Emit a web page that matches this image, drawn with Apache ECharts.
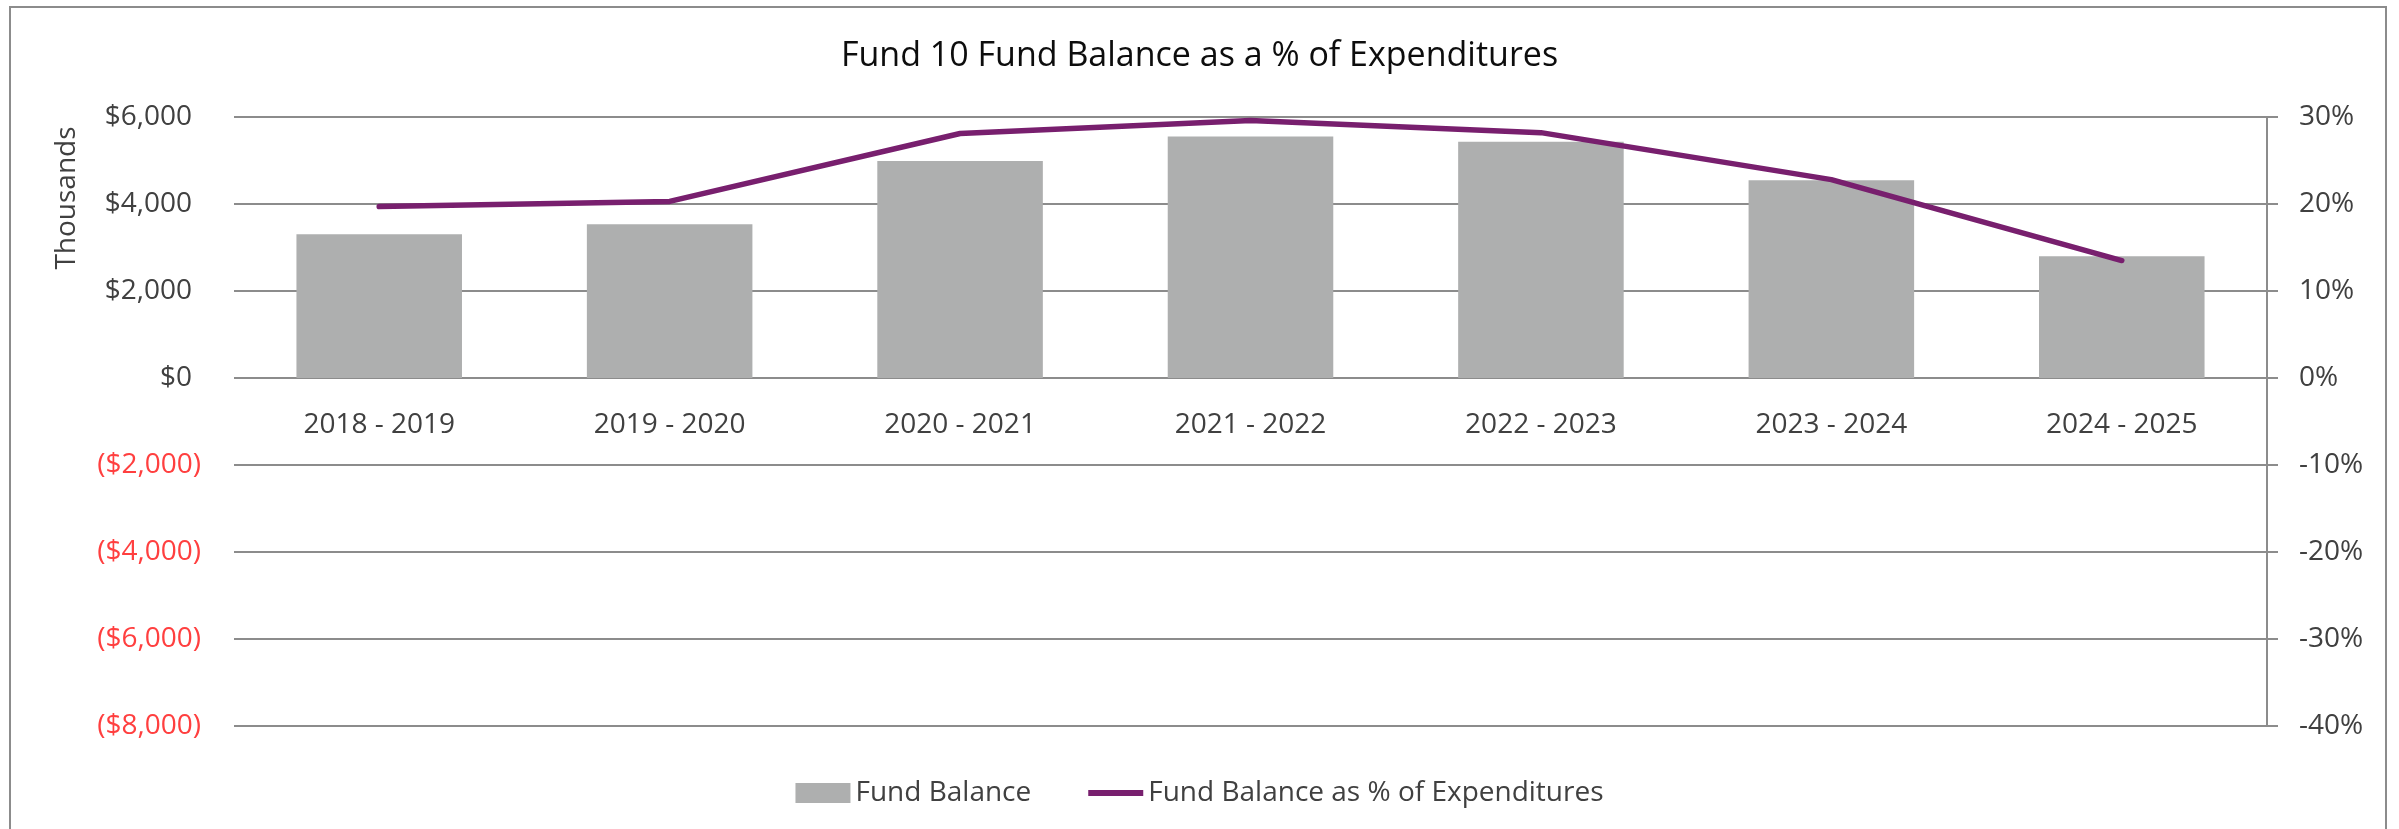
<!DOCTYPE html>
<html>
<head>
<meta charset="utf-8">
<title>Fund 10 Fund Balance as a % of Expenditures</title>
<script src="https://cdn.jsdelivr.net/npm/echarts@6/dist/echarts.min.js"></script>
<style>
  html, body { margin: 0; padding: 0; background: #fff; }
  #chart { width: 2399px; height: 829px; }
</style>
</head>
<body>
<div id="chart"></div>
<script>
// Fund 10 fund balance (thousands) and balance as % of expenditures
const years = ['2018 - 2019', '2019 - 2020', '2020 - 2021', '2021 - 2022', '2022 - 2023', '2023 - 2024', '2024 - 2025'];
const fundBalance = [3304, 3535, 4986, 5553, 5431, 4548, 2797];
const balancePct = [19.7, 20.3, 28.1, 29.6, 28.2, 22.8, 13.5];

const FONT = '"Open Sans", "DejaVu Sans", sans-serif';
const TEXT = '#404040';
const GRID = '#8c8c8c';
const PURPLE = '#781f6e';

document.addEventListener('DOMContentLoaded', function () {
    const chart = echarts.init(document.getElementById('chart'));

    // Excel style accounting labels: ($2,000) for negatives
    function money(v) {
        const s = '$' + Math.abs(v).toLocaleString('en-US');
        return v < 0 ? '{neg|(' + s + ')}' : '{pos|' + s + '}';
    }

    const option = {
        animation: false,
        textStyle: { fontFamily: FONT },
        title: {
            text: 'Fund 10 Fund Balance as a % of Expenditures',
            left: 'center',
            top: 34,
            textStyle: { color: '#0d0d0d', fontSize: 34, fontWeight: 'normal', fontFamily: FONT }
        },
        legend: {
            left: 'center',
            top: 774,
            itemWidth: 55,
            itemHeight: 20,
            itemGap: 57,
            textStyle: { color: TEXT, fontSize: 28, fontFamily: FONT },
            data: [
                { name: 'Fund Balance', icon: 'rect' },
                { name: 'Fund Balance as % of Expenditures', icon: 'path://M0,0 L55,0 L55,6 L0,6 Z' }
            ]
        },
        grid: { left: 234, right: 132, top: 117, bottom: 103, containLabel: false },
        xAxis: {
            type: 'category',
            data: years,
            position: 'bottom',
            offset: -348, // sits on the $0 line
            axisLine: { show: false, onZero: false },
            axisTick: { show: false },
            axisLabel: { interval: 0, margin: 33, color: TEXT, fontSize: 28, fontFamily: FONT }
        },
        yAxis: [
            {
                type: 'value',
                min: -8000,
                max: 6000,
                interval: 2000,
                axisLine: { show: false },
                axisTick: { show: false },
                splitLine: { lineStyle: { color: GRID, width: 2 } },
                axisLabel: {
                    margin: 33,
                    formatter: money,
                    rich: {
                        pos: { color: TEXT, fontSize: 28, fontFamily: FONT, padding: [0, 9, 0, 0] },
                        neg: { color: '#ff3f3f', fontSize: 28, fontFamily: FONT }
                    }
                }
            },
            {
                type: 'value',
                min: -40,
                max: 30,
                interval: 10,
                position: 'right',
                axisLine: { show: true, lineStyle: { color: GRID, width: 2 } },
                axisTick: { show: true, inside: false, length: 11, lineStyle: { color: GRID, width: 2 } },
                splitLine: { show: false },
                axisLabel: { margin: 32, color: TEXT, fontSize: 28, fontFamily: FONT, formatter: '{value}%' }
            }
        ],
        series: [
            {
                name: 'Fund Balance',
                type: 'bar',
                data: fundBalance,
                barWidth: '57%',
                itemStyle: { color: '#aeafaf' }
            },
            {
                name: 'Fund Balance as % of Expenditures',
                type: 'line',
                yAxisIndex: 1,
                data: balancePct,
                symbol: 'none',
                lineStyle: { color: PURPLE, width: 5.5, cap: 'round', join: 'round' },
                itemStyle: { color: PURPLE }
            }
        ],
        graphic: [
            {
                type: 'rect',
                shape: { x: 10, y: 7, width: 2376, height: 860 },
                style: { fill: 'none', stroke: GRID, lineWidth: 2 },
                silent: true
            },
            {
                type: 'text',
                x: 67,
                y: 198,
                rotation: Math.PI / 2,
                style: {
                    text: 'Thousands',
                    fill: TEXT,
                    fontSize: 28,
                    fontFamily: FONT,
                    align: 'center',
                    verticalAlign: 'middle'
                },
                silent: true
            }
        ]
    };

    chart.setOption(option);
    window.addEventListener('resize', () => chart.resize());
});
</script>
</body>
</html>
